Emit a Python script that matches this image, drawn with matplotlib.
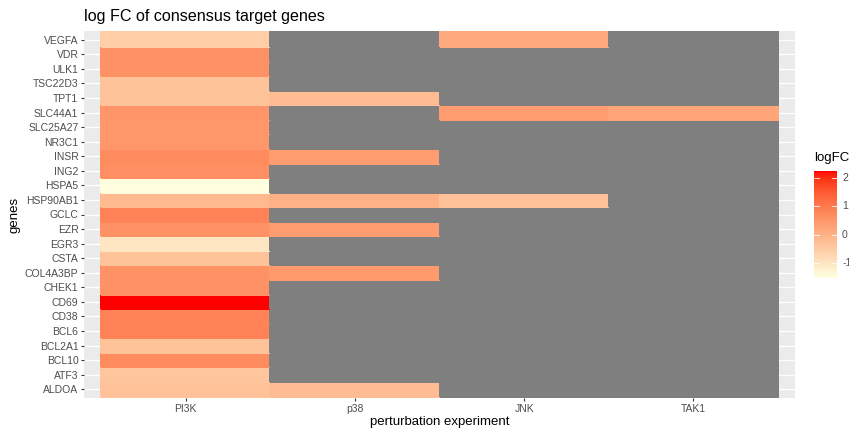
import numpy as np
import matplotlib
matplotlib.use("Agg")
import matplotlib.pyplot as plt
from matplotlib.colors import ListedColormap, Normalize, to_rgb

plt.rcParams['font.family'] = ['Liberation Sans', 'DejaVu Sans']

genes = ["ALDOA", "ATF3", "BCL10", "BCL2A1", "BCL6", "CD38", "CD69", "CHEK1",
         "COL4A3BP", "CSTA", "EGR3", "EZR", "GCLC", "HSP90AB1", "HSPA5", "ING2",
         "INSR", "NR3C1", "SLC25A27", "SLC44A1", "TPT1", "TSC22D3", "ULK1", "VDR", "VEGFA"]
experiments = ["PI3K", "p38", "JNK", "TAK1"]
nan = np.nan
pi3k = [-0.3, -0.38, 0.7, -0.33, 0.87, 0.87, 2.25, 0.6,
        0.6, -0.33, -1.02, 0.6, 0.87, -0.13, -1.53, 0.65,
        0.7, 0.5, 0.5, 0.55, -0.34, -0.34, 0.6, 0.6, -0.55]
p38 = [-0.2, nan, nan, nan, nan, nan, nan, nan,
       0.45, nan, nan, 0.4, nan, 0.01, nan, nan,
       0.4, nan, nan, nan, -0.2, nan, nan, nan, nan]
jnk = [nan, nan, nan, nan, nan, nan, nan, nan,
       nan, nan, nan, nan, nan, -0.3, nan, nan,
       nan, nan, nan, 0.4, nan, nan, nan, nan, 0.15]
tak1 = [nan, nan, nan, nan, nan, nan, nan, nan,
        nan, nan, nan, nan, nan, nan, nan, nan,
        nan, nan, nan, 0.25, nan, nan, nan, nan, nan]
legend_ticks = [-1, 0, 1, 2]

# ---- Lab interpolation like ggplot's scale_fill_gradient ----
def srgb_to_lab(c):
    c = np.asarray(c, float)
    lin = np.where(c <= 0.04045, c / 12.92, ((c + 0.055) / 1.055) ** 2.4)
    M = np.array([[0.4124, 0.3576, 0.1805], [0.2126, 0.7152, 0.0722], [0.0193, 0.1192, 0.9505]])
    xyz = M @ lin
    wp = np.array([0.95047, 1.0, 1.08883])
    t = xyz / wp
    f = np.where(t > (6/29) ** 3, np.cbrt(t), t / (3 * (6/29) ** 2) + 4/29)
    return np.array([116 * f[1] - 16, 500 * (f[0] - f[1]), 200 * (f[1] - f[2])])

def lab_to_srgb(lab):
    L, a, b = lab
    fy = (L + 16) / 116
    fx = fy + a / 500
    fz = fy - b / 200
    def finv(t):
        return np.where(t > 6/29, t ** 3, 3 * (6/29) ** 2 * (t - 4/29))
    wp = np.array([0.95047, 1.0, 1.08883])
    xyz = np.array([finv(fx), finv(fy), finv(fz)]) * wp
    Minv = np.array([[3.2406, -1.5372, -0.4986], [-0.9689, 1.8758, 0.0415], [0.0557, -0.2040, 1.0570]])
    lin = Minv @ xyz
    lin = np.clip(lin, 0, 1)
    c = np.where(lin <= 0.0031308, 12.92 * lin, 1.055 * lin ** (1 / 2.4) - 0.055)
    return np.clip(c, 0, 1)

lo = srgb_to_lab(to_rgb("lightyellow"))
hi = srgb_to_lab(to_rgb("red"))
cols = [lab_to_srgb(lo + (hi - lo) * t) for t in np.linspace(0, 1, 256)]
cmap = ListedColormap(cols)
cmap.set_bad("#7F7F7F")

data = np.ma.masked_invalid(np.array([pi3k, p38, jnk, tak1]).T)
vmin, vmax = np.nanmin(data.filled(np.nan)), np.nanmax(data.filled(np.nan))
norm = Normalize(vmin, vmax)

W, H = 849, 433
fig = plt.figure(figsize=(W / 100, H / 100), dpi=100)
ax = fig.add_axes([84 / W, 1 - 398 / H, (795 - 84) / W, (398 - 31) / H])
ax.set_facecolor("#EBEBEB")
nx, ny = len(experiments), len(genes)
ax.pcolormesh(np.arange(nx + 1) - 0.5, np.arange(ny + 1) - 0.5, data,
              cmap=cmap, norm=norm, zorder=2, edgecolors="face", linewidth=0.3)
ax.set_xlim(-0.6, nx - 0.4)
ax.set_ylim(-0.6, ny - 0.4)
ax.set_xticks(range(nx))
ax.set_xticklabels(experiments)
ax.set_yticks(range(ny))
ax.set_yticklabels(genes)
ax.grid(True, color="white", linewidth=1.0, zorder=1)
ax.set_axisbelow(True)
for s in ax.spines.values():
    s.set_visible(False)
ax.tick_params(axis="both", colors="#333333", length=2.2, width=0.8, labelsize=7.5,
               labelcolor="#4D4D4D", pad=1.8)
ax.set_xlabel("perturbation experiment", fontsize=9.5, color="black", labelpad=2)
ax.set_ylabel("genes", fontsize=9.5, color="black", labelpad=3)
fig.text(84 / W, 1 - 16 / H, "log FC of consensus target genes", fontsize=11.6,
         color="black", va="center", ha="left")

# ---- colour bar legend ----
cax = fig.add_axes([814 / W, 1 - 278 / H, 23 / W, 107 / H])
grad = np.linspace(vmin, vmax, 300).reshape(-1, 1)
cax.imshow(grad, aspect="auto", cmap=cmap, norm=norm, origin="lower",
           extent=[0, 1, vmin, vmax])
cax.set_xlim(0, 1)
cax.set_ylim(vmin, vmax)
cax.set_xticks([])
cax.set_yticks([])
for s in cax.spines.values():
    s.set_visible(False)
for t in legend_ticks:
    cax.plot([0, 0.2], [t, t], color="white", lw=0.6)
    cax.plot([0.8, 1], [t, t], color="white", lw=0.6)
    cax.text(1.22, t, str(t), fontsize=7.5, color="#4D4D4D", va="center", ha="left",
             transform=cax.transData, clip_on=False)
fig.text(814 / W, 1 - 158 / H, "logFC", fontsize=9.5, color="black", va="center", ha="left")

fig.savefig("out.png", dpi=100)
